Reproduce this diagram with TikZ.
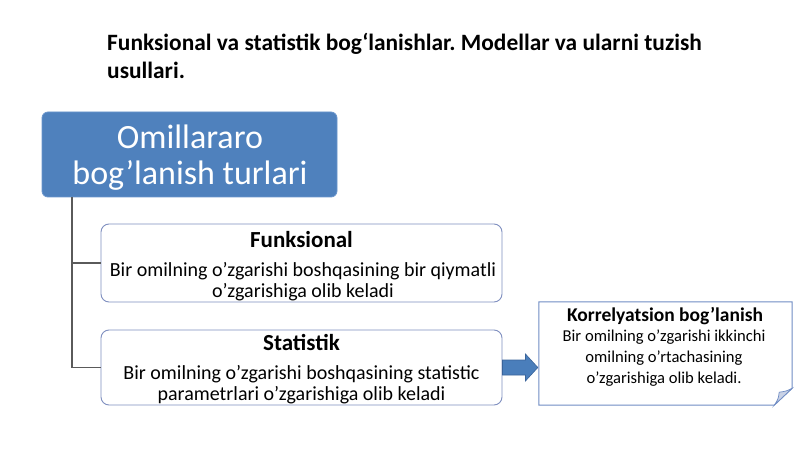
\documentclass[tikz,border=0pt]{standalone}
\usepackage{fontspec}
\setmainfont{Carlito}
\usetikzlibrary{calc}
\definecolor{hdrblue}{HTML}{4F81BD}
\definecolor{hdrline}{HTML}{6A95CC}
\definecolor{boxline}{HTML}{7F8FC0}
\definecolor{korrcol}{HTML}{6F8CC4}
\definecolor{conn}{HTML}{5A5A5A}
\definecolor{arrfill}{HTML}{4A7EBB}
\definecolor{arrline}{HTML}{3A649A}
\definecolor{foldfill}{HTML}{C9D2E6}
\begin{document}
\frenchspacing
\begin{tikzpicture}[x=1pt,y=-1pt,
  hdrbox/.style={draw=hdrline, fill=hdrblue, rounded corners=6pt, line width=0.8pt,
     minimum width=295pt, minimum height=85pt, inner sep=0pt,
     text=white, align=center},
  itembox/.style={draw=boxline, fill=white, rounded corners=8pt, line width=0.9pt,
     minimum width=401pt, inner sep=0pt},
  itemhead/.style={font=\bfseries\fontsize{23}{26}\selectfont, inner sep=0pt},
  itembody/.style={font=\fontsize{20}{21}\selectfont, align=center, inner sep=0pt},
  conline/.style={draw=conn, line width=1.2pt},
  korrline/.style={draw=korrcol, line width=1pt}
]
\useasboundingbox (0,0) rectangle (800,449);
\fill[white] (0,0) rectangle (800,449);

% title
\node[anchor=north west, align=left, inner sep=0pt,
      font=\bfseries\fontsize{23.4}{27.5}\selectfont] (title) at (107,33.5)
  {Funksional va statistik bog‘lanishlar. Modellar va ularni tuzish\\usullari.};

% header box
\node[hdrbox] (hdr) at (189.5,154.5) {};
\node[inner sep=0pt, text=white, align=center, font=\fontsize{34}{36}\selectfont] (hdrt) at (190,157.5) {Omillararo\\bog’lanish turlari};

% item boxes
\node[itembox, minimum height=78pt] (funk) at (301.5,263) {};
\node[itemhead] (funkh) at (301.5,240) {Funksional};
\node[itembody] (funkb) at (303,282) {Bir omilning o’zgarishi boshqasining bir qiymatli\\o’zgarishiga olib keladi};

\node[itembox, minimum height=75pt] (stat) at (301.5,367.5) {};
\node[itemhead] (stath) at (301.5,342) {Statistik};
\node[itembody] (statb) at (301.5,385) {Bir omilning o’zgarishi boshqasining statistic\\parametrlari o’zgarishiga olib keladi};

% connectors
\coordinate (trunk) at (72,197);
\draw[conline] (trunk) |- (funk.west);
\draw[conline] (trunk) |- (stat.west);

% korrelyatsion note box
\node[minimum width=253pt, minimum height=103pt, inner sep=0pt] (korr) at (665.5,353.5) {};
\draw[korrline, fill=white] (korr.north west) -- (korr.north east) -- ([yshift=17pt]korr.south east)
   -- ([xshift=-18pt]korr.south east) -- (korr.south west) -- cycle;
\draw[korrline, fill=foldfill, line width=0.7pt] ([xshift=-18pt]korr.south east)
   .. controls ([xshift=-14pt,yshift=6pt]korr.south east) .. ([xshift=-13pt,yshift=13pt]korr.south east)
   .. controls ([xshift=-6pt,yshift=14pt]korr.south east) .. ([yshift=17pt]korr.south east) -- cycle;
\node[inner sep=0pt, font=\bfseries\fontsize{19.5}{22}\selectfont] (korrh) at (665,316) {Korrelyatsion bog’lanish};
\node[inner sep=0pt, align=center, font=\fontsize{16.6}{21}\selectfont] (korrb) at (664,358)
  {Bir omilning o’zgarishi ikkinchi\\omilning o’rtachasining\\o’zgarishiga olib keladi.};

% block arrow from Statistik to Korrelyatsion
\draw[draw=arrline, fill=arrfill, line width=0.6pt]
  ($(stat.east)+(0,7.5)$) -- ($(stat.east)+(23,7.5)$) -- ($(stat.east)+(23,13.5)$)
  -- ($(stat.east -| korr.west)+(-1,0)$)
  -- ($(stat.east)+(23,-13.5)$) -- ($(stat.east)+(23,-7.5)$) -- ($(stat.east)+(0,-7.5)$) -- cycle;
\end{tikzpicture}
\end{document}
